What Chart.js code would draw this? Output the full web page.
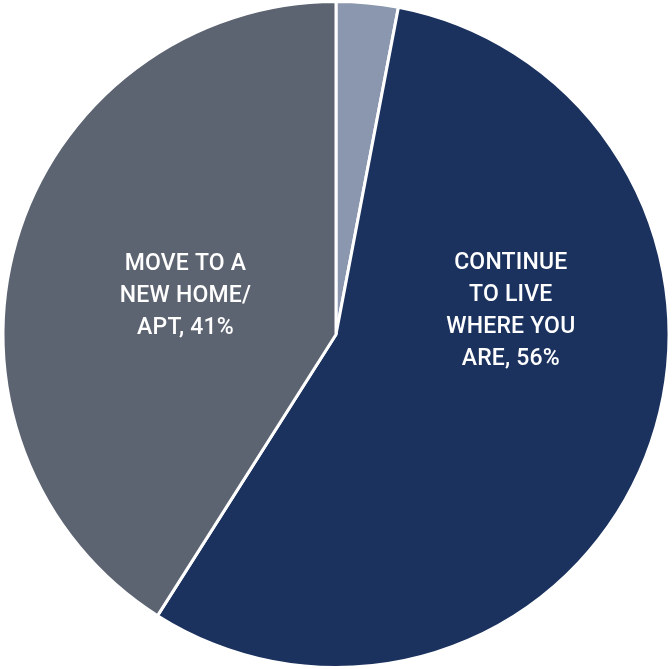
<!DOCTYPE html>
<html>
<head>
<meta charset="utf-8">
<script src="https://cdn.jsdelivr.net/npm/chart.js@4/dist/chart.umd.min.js"></script>
<style>
  html, body { margin: 0; padding: 0; background: #ffffff; }
  #wrap { width: 672px; height: 669px; }
</style>
</head>
<body>
<div id="wrap"><canvas id="pie" width="672" height="669"></canvas></div>
<script>
// Housing plans share, clockwise from 12 o'clock
const categories = ['Other', 'Continue to live where you are', 'Move to a new home/apt'];
const shares = [3, 56, 41];
const sliceColors = ['#8a97ae', '#1b325f', '#5c6371'];

// Slice labels (empty lines = no label), with anchor as fraction of radius
const labelLines = [
  [],
  ['CONTINUE', 'TO LIVE', 'WHERE YOU', 'ARE, 56%'],
  ['MOVE TO A', 'NEW HOME/', 'APT, 41%']
];
const labelAnchors = [null, [0.525, -0.07], [-0.452, -0.115]];

const sliceLabels = {
  id: 'sliceLabels',
  afterDatasetsDraw(chart) {
    const ctx = chart.ctx;
    const arcs = chart.getDatasetMeta(0).data;
    ctx.save();
    ctx.fillStyle = '#ffffff';
    ctx.font = '500 23px Roboto, "Liberation Sans", sans-serif';
    if ('letterSpacing' in ctx) ctx.letterSpacing = '0.2px';
    ctx.textAlign = 'center';
    ctx.textBaseline = 'middle';
    arcs.forEach((arc, i) => {
      const lines = labelLines[i];
      if (!lines.length) return;
      const r = arc.outerRadius;
      const cx = arc.x + labelAnchors[i][0] * r;
      const cy = arc.y + labelAnchors[i][1] * r;
      const lh = 32;
      const top = cy - (lines.length - 1) * lh / 2;
      lines.forEach((t, k) => ctx.fillText(t, cx, top + k * lh));
    });
    ctx.restore();
  }
};

new Chart(document.getElementById('pie'), {
  type: 'pie',
  data: {
    labels: categories,
    datasets: [{
      data: shares,
      backgroundColor: sliceColors,
      borderColor: '#ffffff',
      borderWidth: 3
    }]
  },
  options: {
    responsive: false,
    animation: false,
    layout: { padding: 0 },
    plugins: {
      legend: { display: false },
      tooltip: { enabled: false }
    }
  },
  plugins: [sliceLabels]
});
</script>
</body>
</html>
